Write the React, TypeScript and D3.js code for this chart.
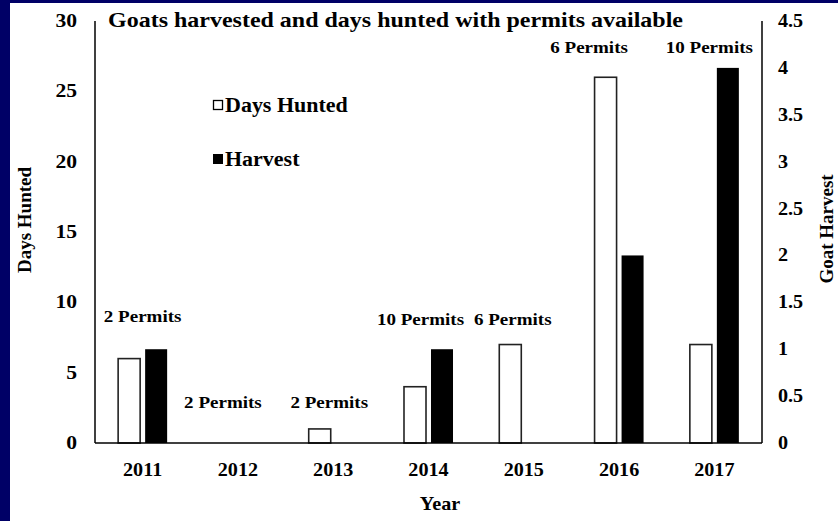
import React from "react";
import * as d3 from "d3";

const years = ["2011", "2012", "2013", "2014", "2015", "2016", "2017"];
const daysHunted = [6, 0, 1, 4, 7, 26, 7];
const harvest = [1, 0, 0, 1, 0, 2, 4];
const permitLabels = ["2 Permits", "2 Permits", "2 Permits", "10 Permits", "6 Permits", "6 Permits", "10 Permits"];
const leftTicks = [0, 5, 10, 15, 20, 25, 30];
const rightTicks = [0, 0.5, 1, 1.5, 2, 2.5, 3, 3.5, 4, 4.5];
const seriesNames = ["Days Hunted", "Harvest"];

// label placement (offset from category centre in px, baseline in left-axis units)
const labelDx = [0, -15, -4, -8, -11, -30, -5];
const labelAt = [8.6, 2.5, 2.5, 8.4, 8.4, 27.7, 27.7];

const W = 838, H = 521;
const left = 95, right = 762, top = 21, bottom = 443;
const SX = 1.12;
const FONT = "'Liberation Serif', 'Times New Roman', serif";

export default function App() {
  const x0 = d3.scaleBand().domain(years).range([left, right]).padding(0);
  const x1 = d3.scaleBand().domain(seriesNames).range([0, x0.bandwidth()]).paddingInner(0.185).paddingOuter(0.857);
  const yL = d3.scaleLinear().domain([0, 30]).range([bottom, top]);
  const yR = d3.scaleLinear().domain([0, 4.5]).range([bottom, top]);

  const T = (props: any) => {
    const { x, y, anchor = "middle", size = 18, children, sx = SX } = props;
    return (
      <text
        transform={`translate(${x},${y}) scale(${sx},1)`}
        textAnchor={anchor}
        fontFamily={FONT}
        fontWeight="bold"
        fontSize={size}
        fill="#000"
      >
        {children}
      </text>
    );
  };

  return (
    <svg width={W} height={H} style={{ position: "absolute", left: 0, top: 0, background: "#fff" }}>
      <rect x={0} y={0} width={W} height={H} fill="#fff" />
      <rect x={0} y={0} width={10} height={H} fill="#000066" />
      <rect x={0} y={0} width={W} height={3} fill="#000066" />

      {/* bars */}
      {years.map((yr, i) => {
        const bx = x0(yr)!;
        return (
          <g key={yr}>
            {daysHunted[i] > 0 && (
              <rect
                x={bx + x1("Days Hunted")!}
                y={yL(daysHunted[i])}
                width={x1.bandwidth()}
                height={bottom - yL(daysHunted[i])}
                fill="#fff"
                stroke="#222"
                strokeWidth={1.6}
              />
            )}
            {harvest[i] > 0 && (
              <rect
                x={bx + x1("Harvest")!}
                y={yR(harvest[i])}
                width={x1.bandwidth()}
                height={bottom - yR(harvest[i])}
                fill="#000"
              />
            )}
          </g>
        );
      })}

      {/* axes */}
      <line x1={left} x2={left} y1={top} y2={bottom} stroke="#000" strokeWidth={1.5} />
      <line x1={right} x2={right} y1={top} y2={bottom} stroke="#000" strokeWidth={1.5} />
      <line x1={left} x2={right} y1={bottom} y2={bottom} stroke="#000" strokeWidth={1.5} />

      {leftTicks.map((t) => (
        <T key={"l" + t} x={77} y={yL(t) + 6} anchor="end" sx={1.2}>{t}</T>
      ))}
      {rightTicks.map((t) => (
        <T key={"r" + t} x={778} y={yR(t) + 6} anchor="start">{t}</T>
      ))}
      {years.map((yr) => (
        <T key={"x" + yr} x={x0(yr)! + x0.bandwidth() / 2} y={476}>{yr}</T>
      ))}

      {/* permit labels */}
      {years.map((yr, i) => (
        <T key={"p" + yr} x={x0(yr)! + x0.bandwidth() / 2 + labelDx[i]} y={yL(labelAt[i])} size={17}>
          {permitLabels[i]}
        </T>
      ))}

      {/* title */}
      <text x={108} y={27} fontFamily={FONT} fontWeight="bold" fontSize={21} textLength={575} lengthAdjust="spacingAndGlyphs">
        Goats harvested and days hunted with permits available
      </text>

      {/* legend */}
      <rect x={213.5} y={100.5} width={9} height={9} fill="#fff" stroke="#000" strokeWidth={1.3} />
      <T x={225} y={112} anchor="start" size={20} sx={1.1}>{seriesNames[0]}</T>
      <rect x={213} y={154} width={10} height={10} fill="#000" />
      <T x={225} y={166} anchor="start" size={20} sx={1.1}>{seriesNames[1]}</T>

      {/* axis titles */}
      <text transform={`translate(31,220) rotate(-90)`} textAnchor="middle" fontFamily={FONT} fontWeight="bold" fontSize={19}>
        Days Hunted
      </text>
      <text transform={`translate(833,229) rotate(-90)`} textAnchor="middle" fontFamily={FONT} fontWeight="bold" fontSize={19}>
        Goat Harvest
      </text>
      <T x={440} y={510}>Year</T>
    </svg>
  );
}
